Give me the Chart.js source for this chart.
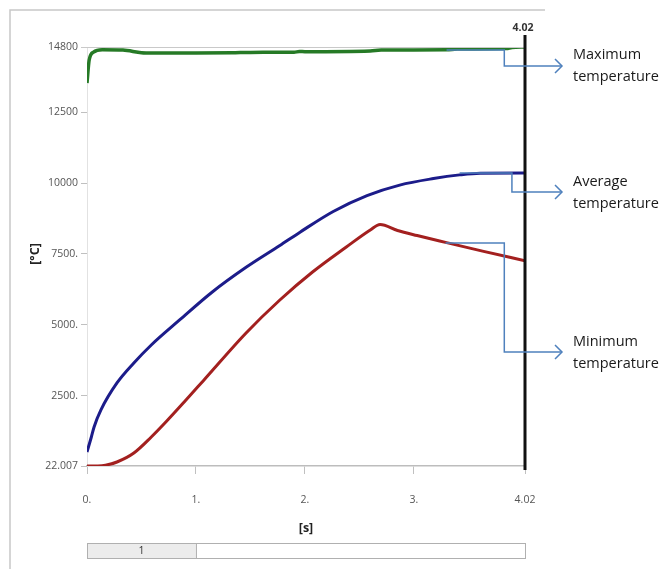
<!DOCTYPE html>
<html>
<head>
<meta charset="utf-8">
<script src="https://cdn.jsdelivr.net/npm/chart.js@4.4.1/dist/chart.umd.min.js"></script>
<style>
  html, body { margin: 0; padding: 0; background: #fff; }
  canvas { display: block; }
</style>
</head>
<body>
<canvas id="tempChart" width="664" height="569"></canvas>
<script>
// Temps (s) et températures (°C)
const maxTime = [0, 0.02, 0.06, 0.14, 0.33, 0.5, 0.6, 1.0, 1.33, 1.5, 1.9, 1.95, 2.0, 2.6, 2.7, 3.3, 3.4, 3.85, 3.9, 4.02];
const maxTemp = [13530, 14340, 14620, 14700, 14690, 14600, 14590, 14590, 14595, 14610, 14615, 14640, 14635, 14660, 14690, 14700, 14730, 14745, 14785, 14800];

const avgTime = [0, 0.04, 0.065, 0.128, 0.275, 0.43, 0.59, 0.85, 1.15, 1.46, 1.77, 1.955, 2.26, 2.57, 2.87, 3.18, 3.42, 3.61, 4.02];
const avgTemp = [516, 1045, 1400, 2000, 2950, 3655, 4290, 5172, 6160, 7030, 7800, 8270, 9000, 9560, 9930, 10160, 10290, 10350, 10357];

const minTime = [0, 0.1, 0.17, 0.275, 0.43, 0.59, 0.73, 0.89, 1.07, 1.46, 1.77, 2.07, 2.38, 2.6, 2.69, 2.85, 3.03, 3.3, 3.63, 4.02];
const minTemp = [22, 25, 50, 163, 480, 1045, 1600, 2270, 3040, 4713, 5877, 6865, 7747, 8347, 8540, 8330, 8150, 7900, 7600, 7260];

const xTicks = [0, 1, 2, 3, 4.02];
const xTickLabels = ['0.', '1.', '2.', '3.', '4.02'];
const yTicks = [22.007, 2500, 5000, 7500, 10000, 12500, 14800];
const yTickLabels = ['22.007', '2500.', '5000.', '7500.', '10000', '12500', '14800'];

// Légendes à droite : point de départ, coude, descente (en unités des axes)
const notes = [
  { lines: ['Maximum', 'temperature'], t0: 3.30, v0: 14696, t1: 3.83, v1: 14131, ty: 55 },
  { lines: ['Average', 'temperature'], t0: 3.42, v0: 10357, t1: 3.90, v1: 9687, ty: 182 },
  { lines: ['Minimum', 'temperature'], t0: 3.29, v0: 7888, t1: 3.83, v1: 4043, ty: 342 }
];

function toPoints(xs, ys) {
  return xs.map((x, i) => ({ x: x, y: ys[i] }));
}

const extras = {
  id: 'extras',
  afterDraw(chart) {
    const c = chart.ctx;
    const a = chart.chartArea;
    const xs = chart.scales.x;
    const ys = chart.scales.y;
    c.save();

    // cadre gris extérieur
    c.strokeStyle = '#c8c8c8';
    c.lineWidth = 1.5;
    c.beginPath();
    c.moveTo(10, 569);
    c.lineTo(10, 10);
    c.lineTo(545, 10);
    c.stroke();

    // ligne du haut du graphe
    c.strokeStyle = '#c9c9c9';
    c.lineWidth = 1;
    c.beginPath();
    c.moveTo(a.left - 6, a.top + 0.5);
    c.lineTo(a.right, a.top + 0.5);
    c.stroke();

    // curseur noir à 4.02
    const xc = xs.getPixelForValue(4.02);
    c.strokeStyle = '#111';
    c.lineWidth = 3;
    c.beginPath();
    c.moveTo(xc, a.top - 12);
    c.lineTo(xc, a.bottom + 4);
    c.stroke();
    c.fillStyle = '#333';
    c.font = 'bold 10.5px "Open Sans"';
    c.textAlign = 'center';
    c.textBaseline = 'middle';
    c.fillText('4.02', xc - 2, 28);

    // titres des axes
    c.fillStyle = '#222';
    c.font = 'bold 12.5px "Open Sans"';
    c.fillText('[s]', (a.left + a.right) / 2, 528);
    c.save();
    c.translate(35, 254);
    c.rotate(-Math.PI / 2);
    c.fillText('[°C]', 0, 0);
    c.restore();

    // barre du bas
    const x1 = xs.getPixelForValue(1);
    c.fillStyle = '#ececec';
    c.fillRect(a.left, 543, x1 - a.left, 15);
    c.strokeStyle = '#b0b0b0';
    c.lineWidth = 1;
    c.strokeRect(a.left + 0.5, 543.5, a.right - a.left, 15);
    c.beginPath();
    c.moveTo(x1 + 0.5, 543);
    c.lineTo(x1 + 0.5, 558);
    c.stroke();
    c.fillStyle = '#333';
    c.font = '10.5px "Open Sans"';
    c.fillText('1', (a.left + x1) / 2, 551);

    // connecteurs et textes
    const arrowX = a.right + 37;
    c.strokeStyle = '#4f81bd';
    c.lineWidth = 1.5;
    c.textAlign = 'left';
    notes.forEach(n => {
      const px0 = xs.getPixelForValue(n.t0), py0 = ys.getPixelForValue(n.v0);
      const px1 = xs.getPixelForValue(n.t1), py1 = ys.getPixelForValue(n.v1);
      c.beginPath();
      c.moveTo(px0, py0);
      c.lineTo(px1, py0);
      c.lineTo(px1, py1);
      c.lineTo(arrowX, py1);
      c.stroke();
      c.beginPath();
      c.moveTo(arrowX - 7, py1 - 7);
      c.lineTo(arrowX, py1);
      c.lineTo(arrowX - 7, py1 + 7);
      c.stroke();
      c.fillStyle = '#1a1a1a';
      c.font = '14.5px "Open Sans"';
      c.textBaseline = 'middle';
      c.fillText(n.lines[0], a.right + 48, n.ty);
      c.fillText(n.lines[1], a.right + 48, n.ty + 22);
    });
    c.restore();
  }
};

const ctx = document.getElementById('tempChart').getContext('2d');

new Chart(ctx, {
  type: 'line',
  data: {
    datasets: [
      { label: 'Maximum', data: toPoints(maxTime, maxTemp), borderColor: '#267a26', borderWidth: 3.5 },
      { label: 'Average', data: toPoints(avgTime, avgTemp), borderColor: '#1c1c8a', borderWidth: 3 },
      { label: 'Minimum', data: toPoints(minTime, minTemp), borderColor: '#a3201f', borderWidth: 3 }
    ]
  },
  options: {
    responsive: false,
    animation: false,
    events: [],
    layout: { padding: { top: 47, right: 139, left: 0, bottom: 0 } },
    elements: {
      point: { radius: 0 },
      line: { cubicInterpolationMode: 'monotone', fill: false }
    },
    plugins: { legend: { display: false }, tooltip: { enabled: false } },
    scales: {
      x: {
        type: 'linear',
        min: 0,
        max: 4.02,
        afterBuildTicks: s => { s.ticks = xTicks.map(v => ({ value: v })); },
        afterFit: s => { s.height = 103; },
        ticks: {
          callback: (v, i) => xTickLabels[i],
          color: '#555',
          font: { family: 'Open Sans', size: 10.5 },
          padding: 20,
          maxRotation: 0
        },
        grid: { display: true, drawOnChartArea: false, tickLength: 8, color: '#c0c0c0' },
        border: { color: '#bdbdbd', width: 1.5 }
      },
      y: {
        min: 22.007,
        max: 14800,
        afterBuildTicks: s => { s.ticks = yTicks.map(v => ({ value: v })); },
        afterFit: s => { s.width = 87; },
        ticks: {
          callback: (v, i) => yTickLabels[i],
          color: '#555',
          font: { family: 'Open Sans', size: 10.5 },
          padding: 3
        },
        grid: { display: true, drawOnChartArea: false, tickLength: 6, color: '#c0c0c0' },
        border: { color: '#e2e2e2', width: 1 }
      }
    }
  },
  plugins: [extras]
});
</script>
</body>
</html>
